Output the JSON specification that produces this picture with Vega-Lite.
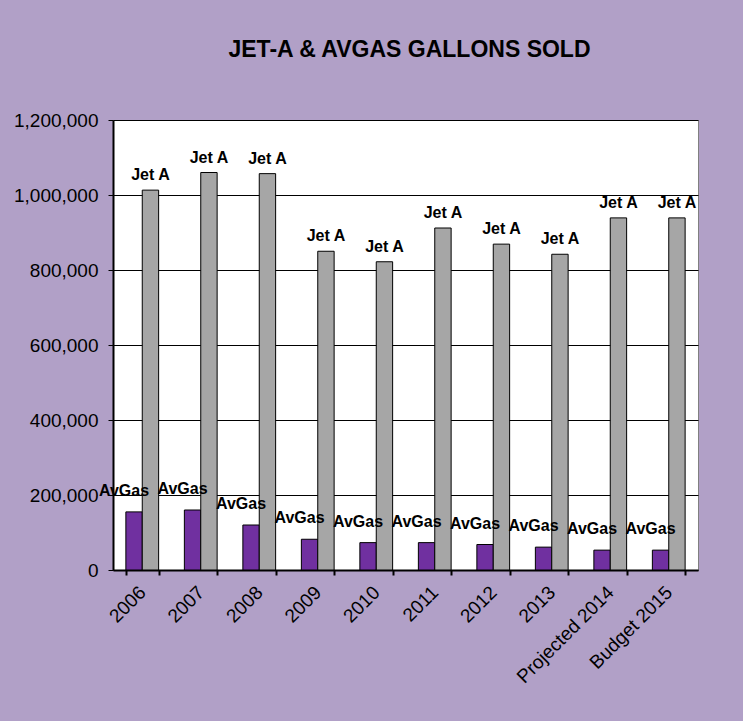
{
  "$schema": "https://vega.github.io/schema/vega-lite/v6.json",
  "autosize": "none",
  "width": 585,
  "height": 450,
  "padding": {"left": 113, "top": 120, "right": 45, "bottom": 151},
  "background": "#B1A0C7",
  "title": {
    "text": "JET-A & AVGAS GALLONS SOLD",
    "font": "Liberation Sans",
    "fontSize": 23,
    "fontWeight": "bold",
    "color": "#000000",
    "anchor": "middle",
    "offset": 58,
    "dx": 4,
    "dy": 9
  },
  "config": {
    "view": {"fill": "#FFFFFF", "stroke": "#808080", "strokeWidth": 1},
    "font": "Liberation Sans"
  },
  "data": {
    "values": [
      {"year": "2006", "fuel": "AvGas", "gallons": 155000},
      {"year": "2006", "fuel": "Jet A", "gallons": 1013000},
      {"year": "2007", "fuel": "AvGas", "gallons": 160000},
      {"year": "2007", "fuel": "Jet A", "gallons": 1060000},
      {"year": "2008", "fuel": "AvGas", "gallons": 120000},
      {"year": "2008", "fuel": "Jet A", "gallons": 1057000},
      {"year": "2009", "fuel": "AvGas", "gallons": 82000},
      {"year": "2009", "fuel": "Jet A", "gallons": 850000},
      {"year": "2010", "fuel": "AvGas", "gallons": 73000},
      {"year": "2010", "fuel": "Jet A", "gallons": 822000},
      {"year": "2011", "fuel": "AvGas", "gallons": 73000},
      {"year": "2011", "fuel": "Jet A", "gallons": 912000},
      {"year": "2012", "fuel": "AvGas", "gallons": 68000},
      {"year": "2012", "fuel": "Jet A", "gallons": 869000},
      {"year": "2013", "fuel": "AvGas", "gallons": 61000},
      {"year": "2013", "fuel": "Jet A", "gallons": 842000},
      {"year": "Projected 2014", "fuel": "AvGas", "gallons": 53000},
      {"year": "Projected 2014", "fuel": "Jet A", "gallons": 939000},
      {"year": "Budget 2015", "fuel": "AvGas", "gallons": 53000},
      {"year": "Budget 2015", "fuel": "Jet A", "gallons": 939000}
    ]
  },
  "encoding": {
    "x": {
      "field": "year",
      "type": "nominal",
      "sort": null,
      "scale": {"paddingInner": 0.44, "paddingOuter": 0.22},
      "axis": {
        "title": null,
        "labelAngle": -45,
        "labelAlign": "right",
        "labelBaseline": "middle",
        "labelFontSize": 19,
        "labelColor": "#000000",
        "labelPadding": 14,
        "tickBand": "extent",
        "tickSize": 5,
        "tickColor": "#000000",
        "tickWidth": 2,
        "domainColor": "#000000",
        "domainWidth": 2,
        "grid": false
      }
    },
    "xOffset": {"field": "fuel", "type": "nominal", "sort": ["AvGas", "Jet A"]},
    "y": {
      "field": "gallons",
      "type": "quantitative",
      "scale": {"domain": [0, 1200000], "nice": false},
      "axis": {
        "title": null,
        "values": [0, 200000, 400000, 600000, 800000, 1000000, 1200000],
        "format": ",d",
        "labelFontSize": 19,
        "labelColor": "#000000",
        "labelPadding": 10,
        "tickSize": 5,
        "tickColor": "#000000",
        "tickWidth": 1,
        "domainColor": "#000000",
        "domainWidth": 2,
        "grid": true,
        "gridColor": "#000000",
        "gridWidth": 1,
        "gridOpacity": 1
      }
    }
  },
  "layer": [
    {
      "mark": {"type": "bar", "stroke": "#000000", "strokeWidth": 1},
      "encoding": {
        "color": {
          "field": "fuel",
          "type": "nominal",
          "scale": {"domain": ["AvGas", "Jet A"], "range": ["#7030A0", "#A6A6A6"]},
          "legend": null
        }
      }
    },
    {
      "transform": [{"filter": "datum.fuel === 'AvGas'"}],
      "mark": {"type": "text", "baseline": "alphabetic", "dy": -16, "dx": -10, "fontSize": 16, "fontWeight": "bold", "color": "#000000"},
      "encoding": {"text": {"field": "fuel"}}
    },
    {
      "transform": [{"filter": "datum.fuel === 'Jet A'"}],
      "mark": {"type": "text", "baseline": "alphabetic", "dy": -10, "fontSize": 16, "fontWeight": "bold", "color": "#000000"},
      "encoding": {"text": {"field": "fuel"}}
    }
  ]
}
